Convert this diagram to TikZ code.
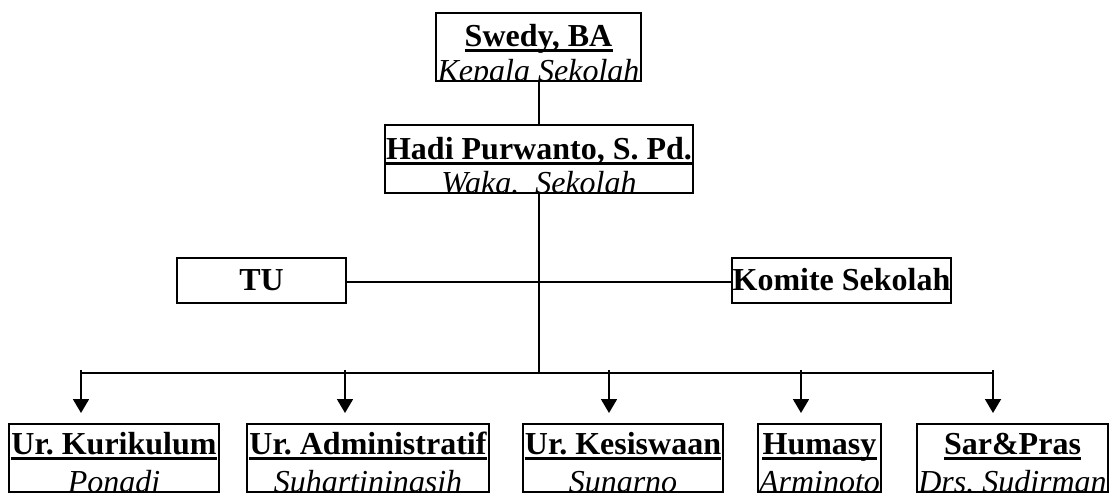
\documentclass[tikz,border=0pt]{standalone}
\usepackage{fontspec}
\setmainfont{Liberation Serif}
\usetikzlibrary{arrows.meta}
\frenchspacing
\tikzset{
  boxst/.style={draw, line width=1.8pt, inner sep=0pt, rectangle},
  txt/.style={inner sep=0pt, anchor=base},
  ttl/.style={txt, font=\fontsize{32}{38}\selectfont\bfseries},
  sub/.style={txt, font=\fontsize{32}{38}\selectfont\itshape},
  conn/.style={line width=1.8pt},
  arr/.style={line width=1.8pt, -{Triangle[length=14pt,width=16pt]}},
  uline/.style={line width=2.6pt}
}
% #1 name, #2 x1, #3 y1, #4 x2, #5 y2, #6 title baseline, #7 title, #8 subtitle
\newcommand\orgbox[8]{%
  \node[boxst, minimum width={(#4-#2)*1pt}, minimum height={(#5-#3)*1pt}] (#1) at ({(#2+#4)/2},{(#3+#5)/2}) {};
  \begin{scope}
    \clip (#2,#3) rectangle (#4,#5);
    \node[ttl] (#1t) at ({(#2+#4)/2},#6) {#7};
    \node[sub] (#1s) at ({(#2+#4)/2},{#5+0.5}) {#8};
  \end{scope}
  \draw[uline] ([yshift=-4.5pt]#1t.base west) -- ([yshift=-4.5pt]#1t.base east);
}
\begin{document}
\begin{tikzpicture}[x=1pt,y=-1pt]
\useasboundingbox (0,0) rectangle (1118,493);

\orgbox{swedy}{436}{13}{641}{81}{46}{Swedy, BA}{Kepala Sekolah}
\orgbox{hadi}{385}{125}{693}{193}{159}{Hadi Purwanto, S. Pd.}{Waka.\ \ Sekolah}

\node[boxst, minimum width=169pt, minimum height=45pt] (tu) at (261.5,280.5) {};
\node[ttl] (tut) at (261.5,290) {TU};
\node[boxst, minimum width=219pt, minimum height=45pt] (komite) at (841.5,280.5) {};
\node[ttl] (komitet) at (841.5,290) {Komite Sekolah};

\orgbox{kur}{9}{424}{219}{492}{454}{Ur. Kurikulum}{Ponadi}
\orgbox{adm}{247}{424}{489}{492}{454}{Ur. Administratif}{Suhartiningsih}
\orgbox{kes}{523}{424}{723}{492}{454}{Ur. Kesiswaan}{Sunarno}
\orgbox{hum}{758}{424}{881}{492}{454}{Humasy}{Arminoto}
\orgbox{sar}{917}{424}{1108}{492}{454}{Sar\&Pras}{Drs. Sudirman}

\coordinate (j) at (539,373);
\coordinate (h) at (539,282);
\coordinate (bl) at (81,373);
\coordinate (br) at (993,373);
\draw[conn] (swedy.south -| j) -- (hadi.north -| j);
\draw[conn] (hadi.south -| j) -- (j);
\draw[conn] (tu.east |- h) -- (komite.west |- h);
\draw[conn] (bl) -- (br);

\foreach \i/\x in {1/81,2/345,3/609,4/801,5/993}{
  \coordinate (b\i) at (\x,370);
  \coordinate (t\i) at (\x,413);
  \draw[arr] (b\i) -- (t\i);
}
\end{tikzpicture}
\end{document}
